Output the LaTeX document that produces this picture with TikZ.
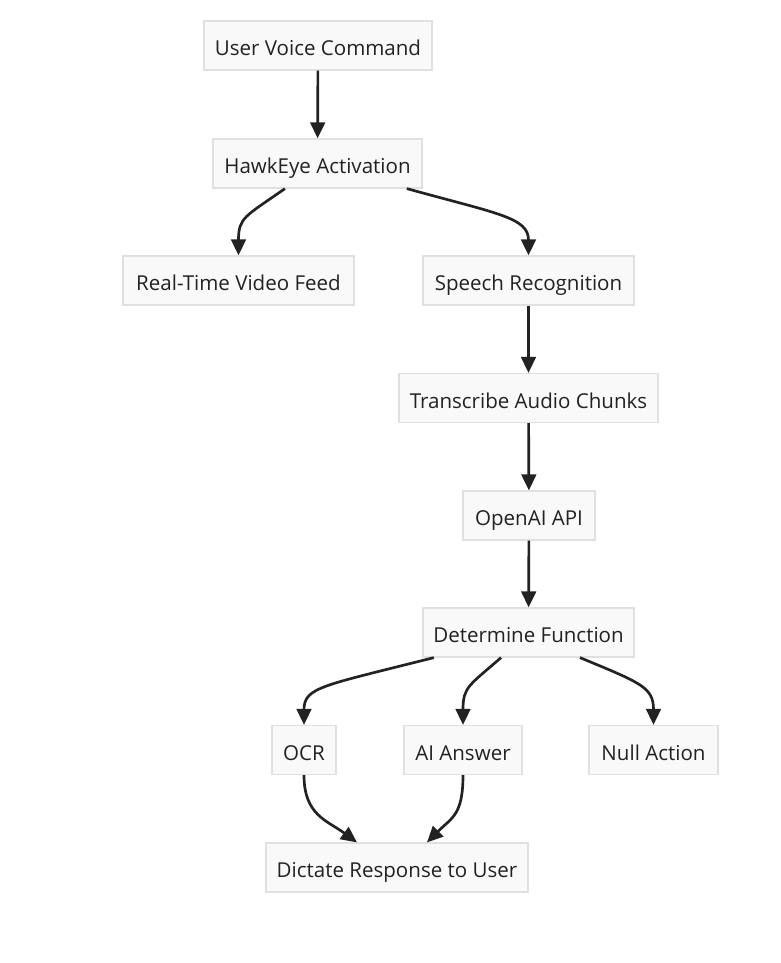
\documentclass[tikz,border=0pt]{standalone}
\usepackage{fontspec}
\setmainfont{Open Sans}
\usetikzlibrary{arrows.meta}
\definecolor{bg}{HTML}{F9F9F9}
\definecolor{bd}{HTML}{E0E0E0}
\definecolor{tx}{HTML}{222222}
\definecolor{ln}{HTML}{222222}
\begin{document}
\begin{tikzpicture}[x=0.75pt,y=-0.75pt,
  box/.style={draw=bd, fill=bg, line width=0.9pt, minimum height=36.75pt, inner xsep=1pt, inner ysep=0pt,
    text height=15.5pt, text depth=0pt,
    text=tx, font=\fontsize{15.4pt}{18pt}\selectfont},
  conn/.style={draw=ln, line width=2pt, -{Triangle[length=12pt,width=11pt]}}]
\useasboundingbox[fill=white] (0,0) rectangle (781,963);
\node[box, minimum width=171pt]    (uvc)  at (318,45.5)  {User Voice Command};
\node[box, minimum width=156.75pt] (hawk) at (317.5,163.5) {HawkEye Activation};
\node[box, minimum width=173.25pt] (rt)   at (238.5,280.5) {Real-Time Video Feed};
\node[box, minimum width=158.25pt] (sr)   at (528.5,280.5) {Speech Recognition};
\node[box, minimum width=194.25pt] (tac)  at (528.5,398)   {Transcribe Audio Chunks};
\node[box, minimum width=99pt]     (oai)  at (529,515.5)   {OpenAI API};
\node[box, minimum width=158.25pt] (df)   at (528.5,632.5) {Determine Function};
\node[box, minimum width=48pt]     (ocr)  at (304,750)     {OCR};
\node[box, minimum width=88.5pt]   (ai)   at (463,750)     {AI Answer};
\node[box, minimum width=96.75pt]  (null) at (653.5,750)   {Null Action};
\node[box, minimum width=196.5pt]  (dict) at (397,867.5)   {Dictate Response to User};

\draw[conn] (uvc) -- (hawk);
\draw[conn] ([xshift=-24.4pt]hawk.south) .. controls +(-40,28) and +(0,-38) .. (rt.north);
\draw[conn] ([xshift=67pt]hawk.south) .. controls +(90,25) and +(0,-38) .. (sr.north);
\draw[conn] (sr) -- (tac);
\draw[conn] (tac) -- (oai);
\draw[conn] (oai) -- (df);
\draw[conn] ([xshift=-71pt]df.south) .. controls +(-110,28) and +(0,-38) .. (ocr.north);
\draw[conn] ([xshift=-20.6pt]df.south) .. controls +(-32,28) and +(0,-38) .. (ai.north);
\draw[conn] ([xshift=38.6pt]df.south) .. controls +(60,25) and +(0,-38) .. (null.north);
\draw[conn] (ocr.south) .. controls +(0,40) and +(-30,-22) .. ([xshift=-30pt]dict.north);
\draw[conn] (ai.south) .. controls +(0,40) and +(25,-25) .. ([xshift=22.5pt]dict.north);
\end{tikzpicture}
\end{document}
